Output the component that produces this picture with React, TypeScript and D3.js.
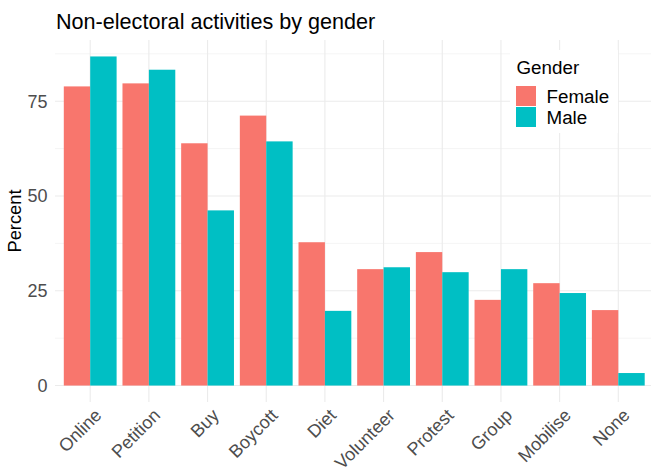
import React from 'react';
import * as d3 from 'd3';

const activities = ['Online', 'Petition', 'Buy', 'Boycott', 'Diet', 'Volunteer', 'Protest', 'Group', 'Mobilise', 'None'];
const female = [78.9, 79.7, 63.9, 71.2, 37.8, 30.7, 35.2, 22.6, 27.0, 19.9];
const male = [86.8, 83.3, 46.2, 64.4, 19.7, 31.2, 29.9, 30.7, 24.4, 3.3];
const genders = ['Female', 'Male'];
const colors = ['#F8766D', '#00BFC4'];
const yTicks = [0, 25, 50, 75];
const yMinor = [12.5, 37.5, 62.5, 87.5];

const W = 651;
const H = 472;
const panel = { left: 55, right: 653.5, top: 40, bottom: 402 };

export default function App() {
  const x = d3.scalePoint<string>()
    .domain(activities)
    .range([panel.left, panel.right])
    .padding(0.6);
  const step = x.step();
  const bw = step * 0.45;

  const yMax = 86.8 * 1.05;
  const y = d3.scaleLinear()
    .domain([-86.8 * 0.05, yMax])
    .range([panel.bottom, panel.top]);

  const series = [female, male];
  const font = 'Liberation Sans, Arial, Helvetica, sans-serif';

  return (
    <svg width={W} height={H} style={{ position: 'absolute', left: 0, top: 0, fontFamily: font }}>
      <rect width={W} height={H} fill="white" />
      {yMinor.map(t => (
        <line key={'mi' + t} x1={panel.left} x2={panel.right} y1={y(t)} y2={y(t)} stroke="#EBEBEB" strokeWidth={0.55} />
      ))}
      {yTicks.map(t => (
        <line key={'ma' + t} x1={panel.left} x2={panel.right} y1={y(t)} y2={y(t)} stroke="#EBEBEB" strokeWidth={1.1} />
      ))}
      {activities.map(a => (
        <line key={'v' + a} x1={x(a)} x2={x(a)} y1={panel.top} y2={panel.bottom} stroke="#EBEBEB" strokeWidth={1.1} />
      ))}
      {series.map((vals, si) =>
        vals.map((v, i) => {
          const cx = x(activities[i]) as number;
          const x0 = si === 0 ? cx - bw : cx;
          return (
            <rect key={si + '-' + i} x={x0} y={y(v)} width={bw} height={y(0) - y(v)} fill={colors[si]} />
          );
        })
      )}
      {yTicks.map(t => (
        <text key={'yt' + t} x={47.5} y={y(t)} dy="0.36em" textAnchor="end" fontSize={18} fill="#4D4D4D">{t}</text>
      ))}
      {activities.map(a => (
        <text
          key={'xt' + a}
          transform={`translate(${(x(a) as number) + 8},${panel.bottom + 10}) rotate(-45)`}
          textAnchor="end"
          dy="0.35em"
          fontSize={18}
          fill="#4D4D4D"
        >{a}</text>
      ))}
      <text transform={`translate(21,${(panel.top + panel.bottom) / 2}) rotate(-90)`} textAnchor="middle" fontSize={18.3} fill="black">Percent</text>
      <text x={56} y={29} fontSize={21.6} fill="black">Non-electoral activities by gender</text>
      <g>
        <rect x={510} y={50} width={108} height={83} fill="white" />
        <text x={516.5} y={74.3} fontSize={18.8} fill="black">Gender</text>
        {genders.map((g, i) => (
          <g key={g} transform={`translate(516,${86 + i * 21})`}>
            <rect width={20} height={20} fill={colors[i]} />
            <text x={30.5} y={10} dy="0.36em" fontSize={18.8} fill="black">{g}</text>
          </g>
        ))}
      </g>
    </svg>
  );
}
